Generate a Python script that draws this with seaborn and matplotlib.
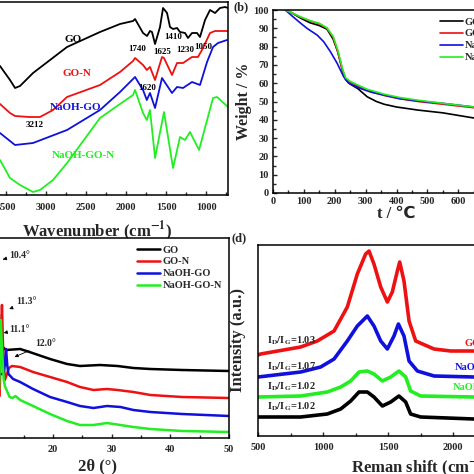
import numpy as np
import pandas as pd
import matplotlib
matplotlib.use('Agg')
import matplotlib.pyplot as plt
import seaborn as sns

sns.set_style('ticks')
plt.rcParams['font.family'] = ['Liberation Serif', 'DejaVu Sans']
plt.rcParams['font.weight'] = 'bold'
plt.rcParams['axes.labelweight'] = 'bold'
plt.rcParams['mathtext.fontset'] = 'stix'
plt.rcParams['axes.linewidth'] = 1.1
plt.rcParams['axes.edgecolor'] = 'black'

names = ['GO', 'GO-N', 'NaOH-GO', 'NaOH-GO-N']
colors = ['black', '#ee1111', '#1010dd', '#22ee22']

#%% (a) FTIR  -- wavenumber / transmittance (a.u., offset)
ftir_go_x = [4000, 3575, 3450, 3387, 3325, 3162, 2737, 2325, 2075, 1912, 1887, 1787, 1737, 1700, 1675,
             1637, 1575, 1537, 1487, 1450, 1412, 1362, 1325, 1262, 1225, 1175, 1112, 1075, 1012, 950,
             887, 825, 762, 725]
ftir_go_y = [145, 134, 120, 112, 114, 127, 153, 168, 176, 179, 181, 167, 164, 169, 168,
             156, 173, 192, 187, 173, 171, 172, 168, 167, 162, 167, 167, 163, 180, 190,
             187, 192, 193, 192]
ftir_gon_x = [4000, 3575, 3450, 3387, 3212, 3075, 2912, 2737, 2325, 2075, 1912, 1887, 1787, 1740, 1700,
              1637, 1550, 1525, 1425, 1362, 1287, 1175, 1100, 1037, 950, 887, 725]
ftir_gon_y = [108, 96, 87, 84, 83, 83, 90, 103, 115, 128, 139, 142, 135, 130, 133,
              120, 143, 142, 125, 137, 137, 143, 143, 152, 167, 169, 169]
ftir_naoh_x = [4000, 3575, 3450, 3387, 3162, 2737, 2325, 2075, 1912, 1887, 1787, 1740, 1700, 1637, 1550,
               1425, 1362, 1287, 1175, 1075, 987, 912, 850, 737]
ftir_naoh_y = [78, 67, 59, 55, 57, 70, 90, 108, 121, 123, 110, 100, 107, 92, 122,
               107, 113, 112, 118, 115, 138, 153, 157, 160]
ftir_naohn_x = [4000, 3575, 3450, 3325, 3162, 3075, 2912, 2737, 2325, 2075, 1912, 1887, 1787, 1740, 1700,
                1637, 1525, 1412, 1325, 1262, 1200, 1087, 912, 862, 725]
ftir_naohn_y = [50, 40, 22, 15, 8, 10, 20, 37, 82, 96, 105, 110, 87, 80, 90,
                42, 88, 32, 63, 60, 68, 50, 102, 103, 93]

#%% (b) TGA
tga_go_x = [40, 60, 90, 120, 150, 175, 195, 210, 225, 235, 250, 275, 305, 335, 360, 400, 470, 550, 650, 800]
tga_go_y = [100, 98.5, 95.5, 93, 91.5, 89.5, 84, 77, 67, 62, 59.5, 57, 52.6, 50, 48.5, 47, 45.3, 43.8, 41, 38.5]
tga_gon_x = [40, 60, 90, 120, 150, 175, 195, 210, 225, 235, 250, 275, 305, 360, 410, 470, 550, 650, 800]
tga_gon_y = [100, 98.5, 96, 94, 92.5, 90, 85, 77, 67, 62.5, 60.5, 58.5, 56, 53.3, 51.5, 50, 48.5, 46.6, 44.5]
tga_naoh_x = [40, 60, 90, 110, 143, 164, 186, 208, 229, 245, 265, 283, 320, 360, 410, 470, 550, 650, 800]
tga_naoh_y = [100, 97, 92.7, 90, 86.3, 82.7, 77.2, 70.8, 63.5, 60, 58.5, 57.1, 55, 53.5, 51.6, 50.3, 49, 47, 45]
tga_naohn_x = tga_gon_x
tga_naohn_y = [100, 98.5, 96.2, 94.2, 92.7, 90.2, 85.5, 78, 68, 63, 61, 59, 56.7, 54, 52.2, 50.7, 49, 47, 45]

#%% (c) XRD
xrd_go_x = [5, 9.8, 10.1, 10.4, 10.7, 11.0, 12, 14.4, 16, 19.5, 22.4, 24.6, 28, 31, 33.7, 36.6, 42, 50]
xrd_go_y = [93, 90, 138, 188, 138, 93, 88, 89, 86, 79, 74, 72, 73, 72, 70, 69, 68, 67]
xrd_gon_x = [5, 10.9, 11.1, 11.3, 11.5, 11.8, 12.5, 13, 14.4, 16.6, 19.5, 22.4, 24.6, 26.9, 29.2, 31,
             33.7, 36.6, 42, 50]
xrd_gon_y = [43, 42, 88, 133, 88, 58, 70, 72, 71, 66, 61, 56, 51, 48, 49, 48, 46, 43, 41, 40]
xrd_naoh_x = [5, 11.5, 11.8, 12.0, 12.2, 12.4, 13.2, 14.4, 16.6, 19.5, 22.4, 24.6, 26.9, 29.2, 31.5,
              33.7, 36.6, 42, 50]
xrd_naoh_y = [64, 64, 73, 89, 73, 64, 59, 56, 49, 41, 36, 32, 30, 32, 31, 28, 26, 24, 22]
xrd_naohn_x = [5, 10.8, 11.0, 11.1, 11.3, 11.6, 11.8, 12.6, 13.1, 13.6, 14.4, 16.6, 19.5, 22.4, 24.6,
               26.9, 29.2, 31.5, 33.7, 36.6, 42, 50]
xrd_naohn_y = [52, 48, 88, 118, 88, 58, 52, 41, 40, 42, 38, 32, 24, 17, 13, 13, 15, 13, 11, 9, 7, 6]

#%% (d) Raman
ram_gon_x = [500, 520, 828, 956, 1085, 1187, 1264, 1328, 1354, 1392, 1444, 1495, 1533, 1572, 1590, 1623,
             1662, 1713, 1854, 1982, 2161, 3000]
ram_gon_y = [81, 82, 89, 95, 105, 129, 162, 182, 185, 172, 149, 134, 144, 165, 174, 155,
             115, 95, 87, 85, 85, 84]
ram_naoh_x = [500, 828, 982, 1085, 1187, 1264, 1341, 1392, 1444, 1495, 1546, 1580, 1623, 1662, 1726, 1854,
              2161, 3000]
ram_naoh_y = [59, 64, 69, 77, 95, 110, 120, 110, 95, 87, 100, 112, 100, 75, 65, 60, 59, 58]
ram_naohn_x = [500, 828, 1033, 1136, 1213, 1277, 1341, 1392, 1457, 1521, 1584, 1636, 1674, 1751, 2161, 3000]
ram_naohn_y = [39, 40, 44, 49, 55, 64, 65, 62, 55, 59, 65, 59, 45, 40, 39, 38]
ram_go_x = [500, 828, 1033, 1136, 1213, 1277, 1341, 1392, 1457, 1521, 1584, 1636, 1674, 1751, 2161, 3000]
ram_go_y = [19, 19, 22, 27, 35, 44, 44, 39, 30, 34, 40, 34, 22, 19, 17, 17]
ratio_text = ['1.03', '1.07', '1.02', '1.02']

W = 474.0


def place(l, t, r, b):
    return fig.add_axes([l / W, 1 - b / W, (r - l) / W, (b - t) / W])


def style(ax, pad=3):
    ax.tick_params(which='both', direction='in', labelsize=7.5, pad=pad, width=1)
    ax.tick_params(which='major', length=3)
    ax.tick_params(which='minor', length=2)
    for s in ax.spines.values():
        s.set_visible(True)


fig = plt.figure(figsize=(4.74, 4.74), dpi=100)

# (a)
axa = place(-34, 2, 228, 195)
for xs, ys, c in zip([ftir_go_x, ftir_gon_x, ftir_naoh_x, ftir_naohn_x],
                     [ftir_go_y, ftir_gon_y, ftir_naoh_y, ftir_naohn_y], colors):
    sns.lineplot(x=xs, y=ys, color=c, lw=1.3, ax=axa, estimator=None, sort=False)
axa.set_xlim(4000, 725)
axa.set_ylim(5, 198)
axa.set_yticks([])
axa.set_xticks([4000, 3500, 3000, 2500, 2000, 1500, 1000])
axa.set_xticks(np.arange(3750, 700, -500), minor=True)
axa.set_xlabel(r'Wavenumber (cm$^{\mathbf{-1}}$)', fontsize=12, labelpad=5)
style(axa, pad=6)
for (tx, ty, s, c) in [(2662, 160, 'GO', colors[0]), (2612, 127, 'GO-N', colors[1]),
                       (2625, 92, 'NaOH-GO', colors[2]), (2537, 45, 'NaOH-GO-N', colors[3])]:
    axa.text(tx, ty, s, color=c, fontsize=8, ha='center', va='center')
for (tx, ty, s) in [(3137, 75, '3212'), (1862, 151, '1740'), (1550, 148, '1625'), (1412, 163, '1410'),
                    (1262, 150, '1230'), (1037, 153, '1050'), (1737, 112, '1620')]:
    axa.text(tx, ty, s, color='black', fontsize=6.5, ha='center', va='center')

# (b)
axb = place(273, 10, 520, 193)
for xs, ys, c, n in zip([tga_go_x, tga_gon_x, tga_naoh_x, tga_naohn_x],
                        [tga_go_y, tga_gon_y, tga_naoh_y, tga_naohn_y], colors, names):
    sns.lineplot(x=xs, y=ys, color=c, lw=1.2, ax=axb, label=n, estimator=None)
axb.set_xlim(0, 800)
axb.set_ylim(0, 100)
axb.set_xticks(np.arange(0, 801, 100))
axb.set_xticks(np.arange(50, 800, 100), minor=True)
axb.set_yticks(np.arange(0, 101, 10))
axb.set_yticks(np.arange(5, 100, 10), minor=True)
axb.set_xlabel('t / \u2103', fontsize=12, labelpad=0)
axb.set_ylabel('Weight / %', fontsize=11.5, labelpad=1)
style(axb)
axb.legend(loc='upper left', bbox_to_anchor=(0.645, 1.0), frameon=False, fontsize=7.5,
           handlelength=2.2, handletextpad=0.2, labelspacing=0.25, borderaxespad=0.3)

# (c)
axc = place(-35, 238, 229, 438)
for xs, ys, c, n in zip([xrd_go_x, xrd_gon_x, xrd_naoh_x, xrd_naohn_x],
                        [xrd_go_y, xrd_gon_y, xrd_naoh_y, xrd_naohn_y], colors, names):
    sns.lineplot(x=xs, y=ys, color=c, lw=1.8, ax=axc, label=n, estimator=None)
axc.set_xlim(5, 50)
axc.set_ylim(0, 200)
axc.set_yticks([])
axc.set_xticks([10, 20, 30, 40, 50])
axc.set_xticks([15, 25, 35, 45], minor=True)
axc.set_xlabel('2\u03b8 (\u00b0)', fontsize=12, labelpad=3)
style(axc, pad=5)
axc.legend(loc='upper right', bbox_to_anchor=(1.0, 1.0), frameon=False, fontsize=7.5,
           handlelength=2.2, handletextpad=0.2, labelspacing=0.25, borderaxespad=0.3)
for (txt, xy, xyt) in [('10.4\u00b0', (11.0, 178), (12.6, 183)), ('11.3\u00b0', (12.1, 128), (13.8, 136)),
                       ('11.1\u00b0', (11.6, 105), (12.6, 109)), ('12.0\u00b0', (13.0, 80), (16.9, 94))]:
    axc.annotate(txt, xy=xy, xytext=xyt, fontsize=7, va='center', ha='left',
                 arrowprops=dict(arrowstyle='-|>', lw=0.6, color='black', mutation_scale=5))

# (d)
axd = place(258, 245, 583, 436)
for xs, ys, c in zip([ram_gon_x, ram_naoh_x, ram_naohn_x, ram_go_x],
                     [ram_gon_y, ram_naoh_y, ram_naohn_y, ram_go_y],
                     [colors[1], colors[2], colors[3], colors[0]]):
    sns.lineplot(x=xs, y=ys, color=c, lw=2.6, ax=axd, estimator=None)
axd.set_xlim(500, 3000)
axd.set_ylim(0, 191)
axd.set_yticks([])
axd.set_xticks([500, 1000, 1500, 2000, 2500, 3000])
axd.set_xticks(np.arange(750, 3000, 500), minor=True)
axd.set_xlabel(r'Reman shift (cm$^{\mathbf{-1}}$)', fontsize=12, labelpad=2)
axd.set_ylabel('Intensity (a.u.)', fontsize=12)
axd.yaxis.set_label_coords(-0.037, 0.5)
style(axd, pad=5)
for ty, r in zip([95, 69, 49, 29], ratio_text):
    axd.text(569, ty, r'$\mathbf{I_{D}/I_{G}}$=' + r, fontsize=7.5, va='center', ha='left')
for (tx, ty, s, c) in [(2092, 93, 'GO-N', colors[1]), (2015, 69, 'NaOH-GO', colors[2]),
                       (2000, 48, 'NaOH-GO-N', colors[3]), (2200, 26, 'GO', colors[0])]:
    axd.text(tx, ty, s, color=c, fontsize=7.5, ha='left', va='center')

fig.text(233 / W, 1 - 7 / W, '(b)', fontsize=9, va='center', ha='left')
fig.text(232 / W, 1 - 238 / W, '(d)', fontsize=9, va='center', ha='left')

fig.savefig('out.png', dpi=100)
